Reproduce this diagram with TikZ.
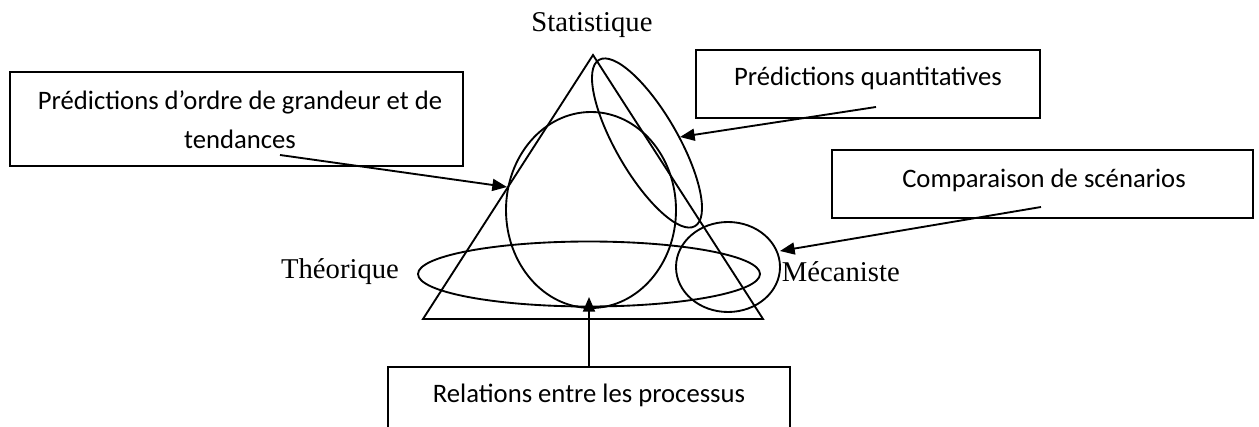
\documentclass[tikz,border=0pt]{standalone}
\usepackage{fontspec}
\setmainfont{Liberation Serif}
\newfontfamily\boxfont{Carlito}
\usetikzlibrary{arrows.meta}
\begin{document}
\begin{tikzpicture}[x=0.75pt,y=-0.75pt,line width=1.4pt,
  frame/.style={draw,line width=1.4pt,inner sep=0pt},
  boxtxt/.style={font=\boxfont\fontsize{20}{29}\selectfont,align=center,inner sep=0pt},
  lbl/.style={font=\fontsize{21.5}{25}\selectfont,inner sep=0pt},
  arr/.style={-{Triangle[length=11pt,width=9pt]},line width=1.4pt}]
\useasboundingbox (0,0) rectangle (1259,427);
\clip (0,0) rectangle (1259,427);
% labels
\node[lbl] (stat) at (592,25) {Statistique};
\node[lbl] (theo) at (340,272) {Théorique};
\node[lbl,anchor=west] (meca) at (781,272) {Mécaniste};
% triangle
\coordinate (A) at (593,55);
\coordinate (B) at (423,319);
\coordinate (C) at (763,319);
\draw (A) -- (B) -- (C) -- cycle;
% ellipses
\draw (591,210) ellipse (85 and 98);
\draw[rotate around={-60:(647,143)}] (647,143) ellipse (96 and 31);
\draw (589,274) ellipse (171 and 32.5);
\draw (728,267) ellipse (52 and 45);
% boxes
\node[frame,minimum width=453*0.75pt,minimum height=94*0.75pt] (b1) at (236.5,119) {};
\node[frame,minimum width=344*0.75pt,minimum height=68*0.75pt] (b2) at (868,84) {};
\node[frame,minimum width=421*0.75pt,minimum height=68*0.75pt] (b3) at (1042.5,184) {};
\node[frame,minimum width=402*0.75pt,minimum height=100*0.75pt] (b4) at (589,417) {};
\node[boxtxt] (t1) at (240,120) {Prédictions d’ordre de grandeur et de\\tendances};
\node[boxtxt] (t2) at (868,78) {Prédictions quantitatives};
\node[boxtxt] (t3) at (1044,180) {Comparaison de scénarios};
\node[boxtxt] (t4) at (589,395) {Relations entre les processus};
% arrows
\coordinate (s1) at (280,155);
\coordinate (e1) at (507,187);
\coordinate (s2) at (876,107);
\coordinate (e2) at (680,137);
\coordinate (s3) at (1041,207);
\coordinate (e3) at (780,251);
\coordinate (e4) at (589,297);
\draw[arr] (s1) -- (e1);
\draw[arr] (s2) -- (e2);
\draw[arr] (s3) -- (e3);
\draw[arr] (b4.north -| e4) -- (e4);
\end{tikzpicture}
\end{document}
